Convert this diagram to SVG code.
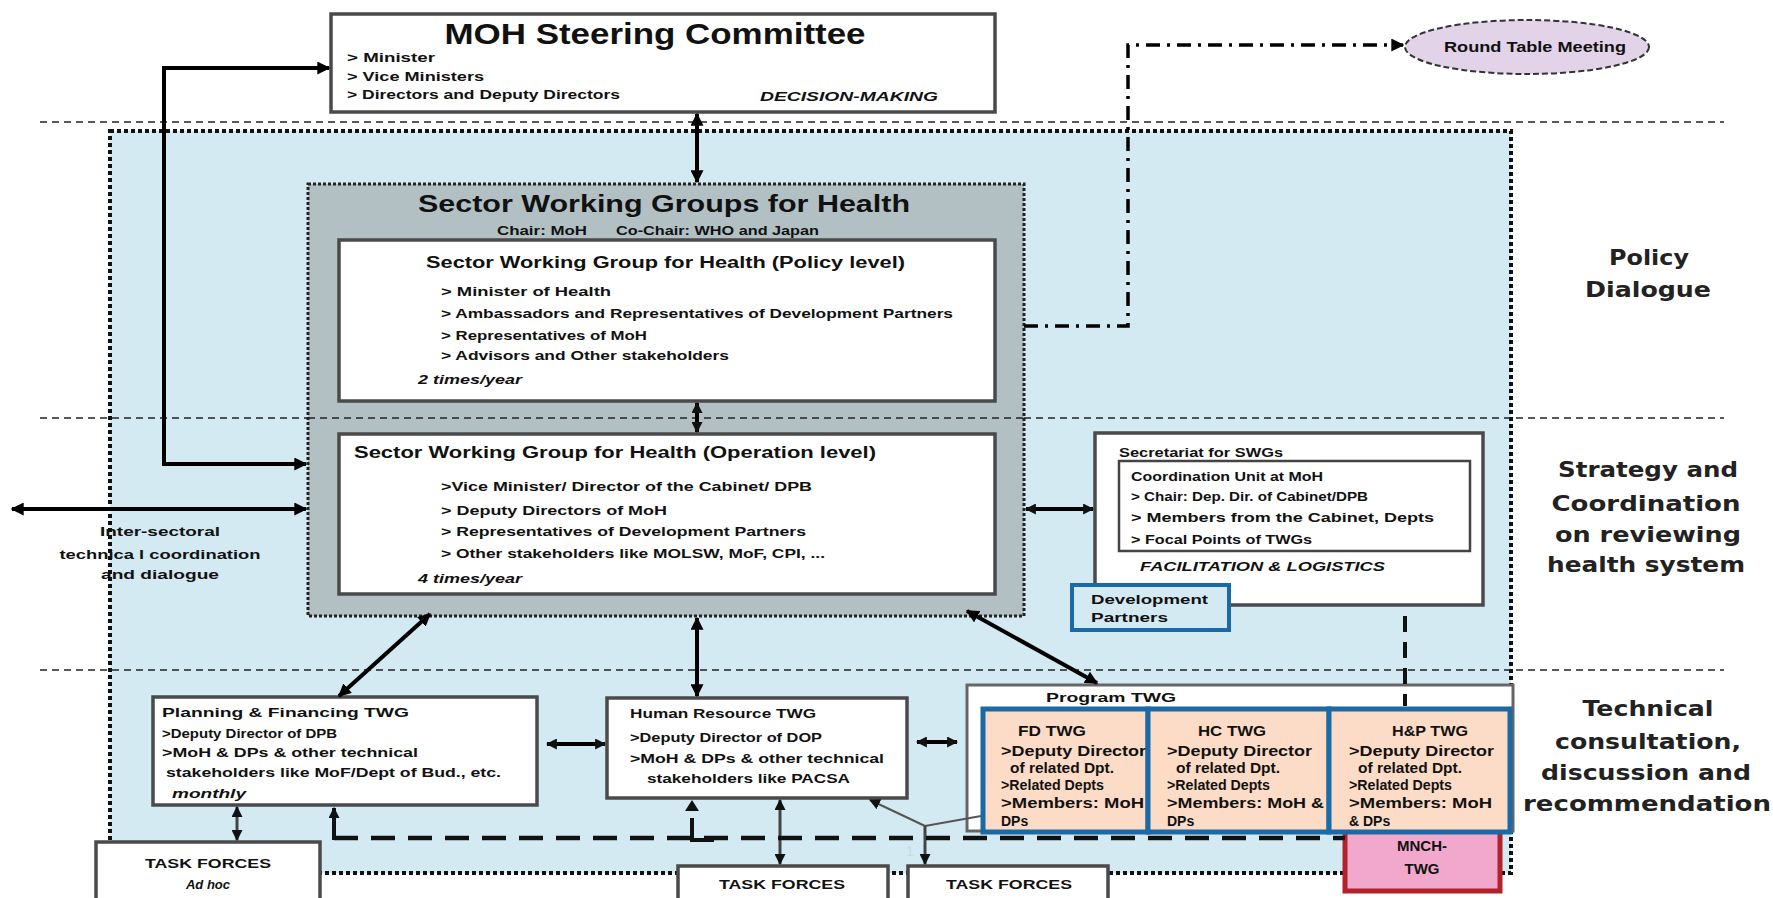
<svg xmlns="http://www.w3.org/2000/svg" width="1773" height="898" viewBox="0 0 1773 898">
<defs>
<style>
text{font-family:"Liberation Sans",Arial,sans-serif;font-weight:bold;fill:#111;}
.t13{font-size:13px;}
.t12{font-size:12px;}
.t14{font-size:14px;}
.it{font-style:italic;}
.mid{text-anchor:middle;}
.side{font-family:"DejaVu Sans","Liberation Sans",sans-serif;font-size:22px;text-anchor:middle;fill:#222;}
.box{fill:#fff;stroke:#4a4a4a;stroke-width:3.5;}
.twg{fill:#fcdcc7;stroke:#1b69a5;stroke-width:5;}
.tier{stroke:#222;stroke-width:1.6;stroke-dasharray:7 5;fill:none;}
.con{stroke:#000;stroke-width:4;fill:none;}
.cong{stroke:#444;stroke-width:3;fill:none;}
.thin{stroke:#555;stroke-width:2;fill:none;}
</style>
<marker id="ah" viewBox="0 0 10 10" refX="9" refY="5" markerWidth="13" markerHeight="13" markerUnits="userSpaceOnUse" orient="auto-start-reverse"><path d="M0,0 L10,5 L0,10 z" fill="#000"/></marker>
<marker id="ahs" viewBox="0 0 10 10" refX="9" refY="5" markerWidth="11" markerHeight="11" markerUnits="userSpaceOnUse" orient="auto-start-reverse"><path d="M0,0 L10,5 L0,10 z" fill="#111"/></marker>
</defs>
<rect width="1773" height="898" fill="#fff"/>

<g id="region">
<rect x="110" y="131" width="1401" height="742" fill="#d3eaf2" stroke="#111" stroke-width="4" stroke-dasharray="4 3"/>
</g>

<g id="tiers">
<line class="tier" x1="40" y1="122" x2="1724" y2="122"/>
<line class="tier" x1="40" y1="418" x2="1724" y2="418"/>
<line class="tier" x1="40" y1="670" x2="1724" y2="670"/>
</g>

<g id="swg">
<rect x="308" y="184" width="716" height="432" fill="#b2c0c4" stroke="#222" stroke-width="3" stroke-dasharray="3 2"/>
<line class="tier" x1="308" y1="418" x2="1024" y2="418"/>
<text x="664" y="212" font-size="24" class="mid" textLength="492" lengthAdjust="spacingAndGlyphs">Sector Working Groups for Health</text>
<text x="497" y="235" class="t13" textLength="90" lengthAdjust="spacingAndGlyphs">Chair: MoH</text>
<text x="616" y="235" class="t13" textLength="203" lengthAdjust="spacingAndGlyphs">Co-Chair: WHO and Japan</text>
</g>

<g id="moh">
<rect class="box" x="331" y="14" width="664" height="98"/>
<text x="655" y="44" font-size="30" class="mid" textLength="421" lengthAdjust="spacingAndGlyphs">MOH Steering Committee</text>
<text x="347" y="62" class="t13" textLength="88" lengthAdjust="spacingAndGlyphs">&gt; Minister</text>
<text x="347" y="81" class="t13" textLength="137" lengthAdjust="spacingAndGlyphs">&gt; Vice Ministers</text>
<text x="347" y="99" class="t13" textLength="273" lengthAdjust="spacingAndGlyphs">&gt; Directors and Deputy Directors</text>
<text x="760" y="101" class="t13 it" textLength="178" lengthAdjust="spacingAndGlyphs">DECISION-MAKING</text>
</g>

<g id="roundtable">
<ellipse cx="1527" cy="47" rx="122" ry="27" fill="#e2d3e8" stroke="#333" stroke-width="2" stroke-dasharray="6 3"/>
<text x="1535" y="52" font-size="14" class="mid" textLength="182" lengthAdjust="spacingAndGlyphs">Round Table Meeting</text>
</g>

<g id="policy">
<rect class="box" x="339" y="240" width="656" height="161"/>
<text x="426" y="268" font-size="16" textLength="479" lengthAdjust="spacingAndGlyphs">Sector Working Group for Health (Policy level)</text>
<text x="441" y="296" class="t13" textLength="170" lengthAdjust="spacingAndGlyphs">&gt; Minister of Health</text>
<text x="441" y="318" class="t13" textLength="512" lengthAdjust="spacingAndGlyphs">&gt; Ambassadors and Representatives of Development Partners</text>
<text x="441" y="340" class="t13" textLength="206" lengthAdjust="spacingAndGlyphs">&gt; Representatives of MoH</text>
<text x="441" y="360" class="t13" textLength="288" lengthAdjust="spacingAndGlyphs">&gt; Advisors and Other stakeholders</text>
<text x="418" y="384" class="t13 it" textLength="104" lengthAdjust="spacingAndGlyphs">2 times/year</text>
</g>

<g id="operation">
<rect class="box" x="339" y="434" width="656" height="160"/>
<text x="354" y="458" font-size="16" textLength="522" lengthAdjust="spacingAndGlyphs">Sector Working Group for Health (Operation level)</text>
<text x="441" y="491" class="t13" textLength="371" lengthAdjust="spacingAndGlyphs">&gt;Vice Minister/ Director of the Cabinet/ DPB</text>
<text x="441" y="515" class="t13" textLength="226" lengthAdjust="spacingAndGlyphs">&gt; Deputy Directors of MoH</text>
<text x="441" y="536" class="t13" textLength="365" lengthAdjust="spacingAndGlyphs">&gt; Representatives of Development Partners</text>
<text x="441" y="558" class="t13" textLength="384" lengthAdjust="spacingAndGlyphs">&gt; Other stakeholders like MOLSW, MoF, CPI, ...</text>
<text x="418" y="583" class="t13 it" textLength="104" lengthAdjust="spacingAndGlyphs">4 times/year</text>
</g>

<g id="intersectoral">
<text x="160" y="536" class="t13 mid" textLength="120" lengthAdjust="spacingAndGlyphs">Inter-sectoral</text>
<text x="160" y="559" class="t13 mid" textLength="201" lengthAdjust="spacingAndGlyphs">technica l coordination</text>
<text x="160" y="579" class="t13 mid" textLength="118" lengthAdjust="spacingAndGlyphs">and dialogue</text>
</g>

<g id="secretariat">
<rect class="box" x="1095" y="433" width="388" height="172"/>
<text x="1119" y="457" class="t13" textLength="164" lengthAdjust="spacingAndGlyphs">Secretariat for SWGs</text>
<rect x="1119" y="461" width="351" height="90" fill="none" stroke="#444" stroke-width="2.5"/>
<text x="1131" y="481" class="t12" textLength="192" lengthAdjust="spacingAndGlyphs">Coordination Unit at MoH</text>
<text x="1131" y="501" class="t12" textLength="237" lengthAdjust="spacingAndGlyphs">&gt; Chair: Dep. Dir. of Cabinet/DPB</text>
<text x="1131" y="522" class="t12" textLength="303" lengthAdjust="spacingAndGlyphs">&gt; Members from the Cabinet, Depts</text>
<text x="1131" y="544" class="t12" textLength="181" lengthAdjust="spacingAndGlyphs">&gt; Focal Points of TWGs</text>
<text x="1140" y="571" class="t12 it" textLength="245" lengthAdjust="spacingAndGlyphs">FACILITATION &amp; LOGISTICS</text>
</g>

<g id="devpartners">
<rect x="1072" y="585" width="157" height="45" fill="#d3eaf2" stroke="#1b69a5" stroke-width="4"/>
<text x="1091" y="604" class="t13" textLength="117" lengthAdjust="spacingAndGlyphs">Development</text>
<text x="1091" y="622" class="t13" textLength="77" lengthAdjust="spacingAndGlyphs">Partners</text>
</g>

<g id="labels">
<text class="side" x="1649" y="265" textLength="80" lengthAdjust="spacingAndGlyphs">Policy</text>
<text class="side" x="1648" y="297" textLength="126" lengthAdjust="spacingAndGlyphs">Dialogue</text>
<text class="side" x="1648" y="477" textLength="180" lengthAdjust="spacingAndGlyphs">Strategy and</text>
<text class="side" x="1646" y="511" textLength="189" lengthAdjust="spacingAndGlyphs">Coordination</text>
<text class="side" x="1648" y="542" textLength="186" lengthAdjust="spacingAndGlyphs">on reviewing</text>
<text class="side" x="1646" y="572" textLength="198" lengthAdjust="spacingAndGlyphs">health system</text>
<text class="side" x="1648" y="716" textLength="131" lengthAdjust="spacingAndGlyphs">Technical</text>
<text class="side" x="1648" y="749" textLength="186" lengthAdjust="spacingAndGlyphs">consultation,</text>
<text class="side" x="1646" y="780" textLength="210" lengthAdjust="spacingAndGlyphs">discussion and</text>
<text class="side" x="1647" y="811" textLength="248" lengthAdjust="spacingAndGlyphs">recommendation</text>
</g>

<g id="planning">
<rect class="box" x="153" y="697" width="384" height="108"/>
<text x="162" y="717" class="t13" textLength="247" lengthAdjust="spacingAndGlyphs">Planning &amp; Financing TWG</text>
<text x="162" y="738" class="t12" textLength="175" lengthAdjust="spacingAndGlyphs">&gt;Deputy Director of DPB</text>
<text x="162" y="757" class="t12" textLength="256" lengthAdjust="spacingAndGlyphs">&gt;MoH &amp; DPs &amp; other technical</text>
<text x="166" y="777" class="t12" textLength="335" lengthAdjust="spacingAndGlyphs">stakeholders like MoF/Dept of Bud., etc.</text>
<text x="172" y="798" class="t12 it" textLength="74" lengthAdjust="spacingAndGlyphs">monthly</text>
</g>

<g id="hr">
<rect class="box" x="607" y="698" width="300" height="100"/>
<text x="630" y="718" class="t13" textLength="186" lengthAdjust="spacingAndGlyphs">Human Resource TWG</text>
<text x="630" y="742" class="t12" textLength="192" lengthAdjust="spacingAndGlyphs">&gt;Deputy Director of DOP</text>
<text x="630" y="763" class="t12" textLength="254" lengthAdjust="spacingAndGlyphs">&gt;MoH &amp; DPs &amp; other technical</text>
<text x="647" y="783" class="t12" textLength="203" lengthAdjust="spacingAndGlyphs">stakeholders like PACSA</text>
</g>

<g id="program">
<rect x="967" y="685" width="546" height="146" fill="#fff" stroke="#666" stroke-width="3"/>
<text x="1046" y="702" class="t13" textLength="130" lengthAdjust="spacingAndGlyphs">Program TWG</text>
</g>

<g id="mnch">
<rect x="1345" y="829" width="155" height="62" fill="#f2a8cc" stroke="#b3222a" stroke-width="5"/>
<text x="1422" y="851" font-size="15" class="mid">MNCH-</text>
<text x="1422" y="874" font-size="15" class="mid">TWG</text>
</g>

<g id="fd">
<rect class="twg" x="983" y="709" width="165" height="123"/>
<text x="1052" y="736" font-size="14" class="mid" textLength="68" lengthAdjust="spacingAndGlyphs">FD TWG</text>
<text x="1001" y="756" class="t14" textLength="145" lengthAdjust="spacingAndGlyphs">&gt;Deputy Director</text>
<text x="1010" y="773" class="t14" textLength="104" lengthAdjust="spacingAndGlyphs">of related Dpt.</text>
<text x="1001" y="790" class="t14" textLength="103" lengthAdjust="spacingAndGlyphs">&gt;Related Depts</text>
<text x="1001" y="808" class="t14" textLength="143" lengthAdjust="spacingAndGlyphs">&gt;Members: MoH</text>
<text x="1001" y="826" class="t14">DPs</text>
</g>

<g id="hc">
<rect class="twg" x="1148" y="709" width="181" height="123"/>
<text x="1232" y="736" font-size="14" class="mid" textLength="68" lengthAdjust="spacingAndGlyphs">HC TWG</text>
<text x="1167" y="756" class="t14" textLength="145" lengthAdjust="spacingAndGlyphs">&gt;Deputy Director</text>
<text x="1176" y="773" class="t14" textLength="104" lengthAdjust="spacingAndGlyphs">of related Dpt.</text>
<text x="1167" y="790" class="t14" textLength="103" lengthAdjust="spacingAndGlyphs">&gt;Related Depts</text>
<text x="1167" y="808" class="t14" textLength="157" lengthAdjust="spacingAndGlyphs">&gt;Members: MoH &amp;</text>
<text x="1167" y="826" class="t14">DPs</text>
</g>

<g id="hp">
<rect class="twg" x="1329" y="709" width="181" height="123"/>
<text x="1430" y="736" font-size="14" class="mid" textLength="76" lengthAdjust="spacingAndGlyphs">H&amp;P TWG</text>
<text x="1349" y="756" class="t14" textLength="145" lengthAdjust="spacingAndGlyphs">&gt;Deputy Director</text>
<text x="1358" y="773" class="t14" textLength="104" lengthAdjust="spacingAndGlyphs">of related Dpt.</text>
<text x="1349" y="790" class="t14" textLength="103" lengthAdjust="spacingAndGlyphs">&gt;Related Depts</text>
<text x="1349" y="808" class="t14" textLength="143" lengthAdjust="spacingAndGlyphs">&gt;Members: MoH</text>
<text x="1349" y="826" class="t14">&amp; DPs</text>
</g>

<g id="tf1">
<rect class="box" x="96" y="842" width="224" height="62"/>
<text x="208" y="868" class="t13 mid" textLength="126" lengthAdjust="spacingAndGlyphs">TASK FORCES</text>
<text x="208" y="889" class="t13 it mid">Ad hoc</text>
</g>
<g id="tf2">
<rect class="box" x="678" y="866" width="210" height="40"/>
<text x="782" y="889" class="t13 mid" textLength="126" lengthAdjust="spacingAndGlyphs">TASK FORCES</text>
</g>
<g id="tf3">
<rect class="box" x="908" y="866" width="200" height="40"/>
<text x="1009" y="889" class="t13 mid" textLength="126" lengthAdjust="spacingAndGlyphs">TASK FORCES</text>
</g>
<text x="906" y="856" font-size="14" style="fill:#c8dbe2;font-weight:normal">1</text>

<g id="connectors">
<line class="con" x1="697" y1="114" x2="697" y2="182" marker-start="url(#ah)" marker-end="url(#ah)"/>
<line class="con" x1="697" y1="403" x2="697" y2="432" marker-start="url(#ahs)" marker-end="url(#ahs)"/>
<path class="con" d="M 329 68 L 164 68 L 164 464 L 306 464" marker-start="url(#ah)" marker-end="url(#ah)"/>
<line class="con" x1="12" y1="509" x2="306" y2="509" marker-start="url(#ah)" marker-end="url(#ah)"/>
<line class="con" x1="1026" y1="509" x2="1093" y2="509" marker-start="url(#ahs)" marker-end="url(#ahs)"/>
<path d="M 1024 326 L 1128 326 L 1128 45 L 1403 45" fill="none" stroke="#000" stroke-width="3.5" stroke-dasharray="14 7 3 7" marker-end="url(#ah)"/>
<line class="con" x1="430" y1="614" x2="339" y2="696" marker-start="url(#ah)" marker-end="url(#ah)"/>
<line class="con" x1="697" y1="618" x2="697" y2="696" marker-start="url(#ah)" marker-end="url(#ah)"/>
<line class="con" x1="967" y1="611" x2="1097" y2="683" marker-start="url(#ah)" marker-end="url(#ah)"/>
<line class="con" x1="547" y1="744" x2="605" y2="744" marker-start="url(#ahs)" marker-end="url(#ahs)"/>
<line class="con" x1="917" y1="742" x2="957" y2="742" marker-start="url(#ahs)" marker-end="url(#ahs)"/>
<line class="cong" x1="237" y1="807" x2="237" y2="840" marker-start="url(#ahs)" marker-end="url(#ahs)"/>
<line class="cong" x1="780" y1="800" x2="780" y2="864" marker-start="url(#ahs)" marker-end="url(#ahs)"/>
<path class="thin" d="M 981 816 L 925 826"/>
<line class="thin" x1="925" y1="826" x2="870" y2="800" marker-end="url(#ahs)"/>
<line class="cong" x1="925" y1="826" x2="925" y2="864" marker-end="url(#ahs)"/>
<line x1="1405" y1="616" x2="1405" y2="706" stroke="#111" stroke-width="4" stroke-dasharray="16 10"/>
<path d="M 334 838 L 1345 838" fill="none" stroke="#111" stroke-width="4.5" stroke-dasharray="24 13"/>
<path d="M 334 840 L 334 808" fill="none" stroke="#111" stroke-width="4" marker-end="url(#ahs)"/>
<path d="M 692 818 L 692 840 L 714 840" fill="none" stroke="#111" stroke-width="4"/>
<path d="M 685 811 L 692 800 L 699 811 z" fill="#111"/>
</g>
</svg>
